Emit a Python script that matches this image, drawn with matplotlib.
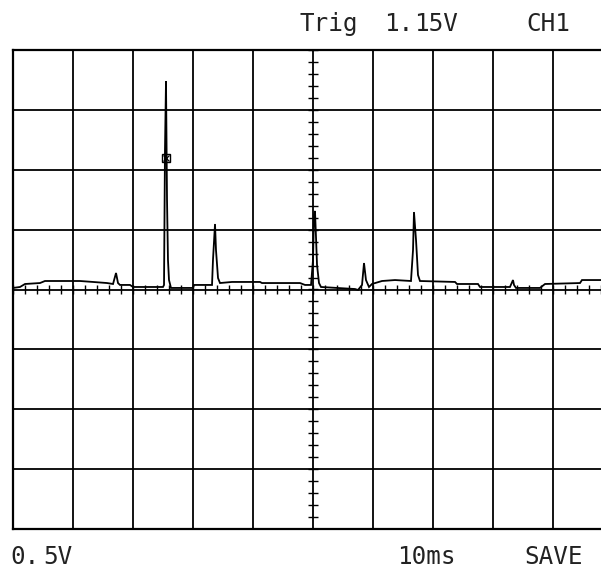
import matplotlib
matplotlib.use("Agg")
import matplotlib.pyplot as plt
import numpy as np

# Trace: time (ms) and voltage (V); 10 ms/div, 0.5 V/div
t_ms = [0.0, 1.17, 2.0, 4.5, 5.33, 11.17, 13.33, 15.67, 16.67, 17.17, 17.5, 17.83,
        19.5, 20.0, 25.0, 25.17, 25.33, 25.5, 25.67, 25.83, 26.0, 26.33, 30.0, 30.17,
        33.17, 33.33, 33.67, 33.83, 34.17, 34.5, 36.5, 41.17, 41.5, 47.83, 48.67,
        49.67, 50.0, 50.17, 50.33, 50.5, 50.67, 51.0, 51.33, 57.0, 57.5, 58.17, 58.5,
        58.83, 59.33, 59.83, 61.5, 63.67, 66.33, 66.67, 66.83, 67.17, 67.5, 67.83,
        73.67, 74.0, 77.5, 77.83, 82.83, 83.33, 83.5, 83.83, 87.83, 88.67, 94.5,
        94.83, 98.0, 100.0]
volts = [0.013, 0.021, 0.046, 0.054, 0.071, 0.071, 0.063, 0.054, 0.046, 0.138, 0.054,
         0.038, 0.038, 0.021, 0.021, 0.038, 1.165, 1.741, 0.747, 0.246, 0.079, 0.013,
         0.013, 0.038, 0.038, 0.246, 0.547, 0.330, 0.096, 0.054, 0.063, 0.063, 0.054,
         0.054, 0.038, 0.038, 0.246, 0.622, 0.656, 0.438, 0.205, 0.054, 0.021, 0.004,
         -0.004, 0.038, 0.221, 0.079, 0.021, 0.046, 0.071, 0.079, 0.071, 0.330, 0.647,
         0.413, 0.121, 0.071, 0.063, 0.046, 0.046, 0.021, 0.021, 0.079, 0.038, 0.013,
         0.013, 0.046, 0.054, 0.079, 0.079, 0.079]

marker_t = [25.5]
marker_v = [1.098]

time_div = 10.0   # ms/div
volt_div = 0.5    # V/div
n_xdiv = 10
n_ydiv = 8

W, H = 601, 572
fig = plt.figure(figsize=(W / 100, H / 100), dpi=100)
fig.patch.set_facecolor("white")

left_px, right_px, top_px, bot_px = 13, 613, 50, 529
ax = fig.add_axes([left_px / W, 1 - bot_px / H, (right_px - left_px) / W, (bot_px - top_px) / H])
ax.set_xlim(0, n_xdiv * time_div)
ax.set_ylim(-n_ydiv / 2 * volt_div, n_ydiv / 2 * volt_div)
ax.set_xticks([])
ax.set_yticks([])
for s in ax.spines.values():
    s.set_linewidth(1.6)
    s.set_color("black")

# graticule
for i in range(1, n_xdiv):
    ax.axvline(i * time_div, color="black", lw=1.3, zorder=1)
for j in range(1, n_ydiv):
    ax.axhline(-n_ydiv / 2 * volt_div + j * volt_div, color="black", lw=1.3, zorder=1)

# minor ticks on centre lines (5 per division)
xc = n_xdiv / 2 * time_div
tx = np.arange(0, n_xdiv * time_div + 0.01, time_div / 5)
ty = np.arange(-n_ydiv / 2 * volt_div, n_ydiv / 2 * volt_div + 0.001, volt_div / 5)
hx = 5 * time_div / 60   # ~5 px in data units
hy = 5 * volt_div / 60
ax.vlines(tx, -hy, hy, color="black", lw=1.0, zorder=1)
ax.hlines(ty, xc - hx, xc + hx, color="black", lw=1.0, zorder=1)

# trace
ax.plot(t_ms, volts, color="black", lw=1.3, zorder=3, solid_joinstyle="miter")
ax.plot(marker_t, marker_v, marker="s", ms=6, mfc="none", mec="black", mew=1.0, zorder=4)
ax.plot(marker_t, marker_v, marker="x", ms=5, color="black", mew=0.9, zorder=4)

fp = dict(family="DejaVu Sans Mono", fontsize=17.5, color="#222222")
top_base = 1 - 31 / H
bot_base = 1 - 564 / H
fig.text(299 / W, top_base, "Trig", **fp)
fig.text(384 / W, top_base, "1.", **fp)
fig.text(414 / W, top_base, "15V", **fp)
fig.text(526 / W, top_base, "CH1", **fp)
fig.text(10 / W, bot_base, "0.", **fp)
fig.text(43 / W, bot_base, "5V", **fp)
fig.text(397 / W, bot_base, "10ms", **fp)
fig.text(524 / W, bot_base, "SAVE", **fp)

fig.savefig("out.png", dpi=100, facecolor="white")
